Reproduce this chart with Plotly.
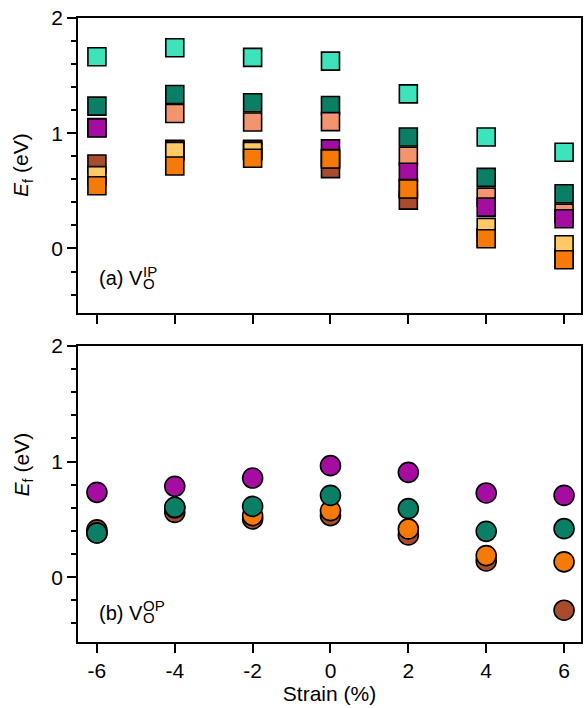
import plotly.graph_objects as go

strain = [-6, -4, -2, 0, 2, 4, 6]

# (a) V_O^IP  -- formation energies (eV)
ip_turquoise = [1.664, 1.742, 1.658, 1.626, 1.342, 0.968, 0.835]
ip_darkteal = [1.235, 1.336, 1.264, 1.241, 0.968, 0.617, 0.475]
ip_salmon = [1.05, 1.171, 1.098, 1.101, 0.80, 0.446, 0.307]
ip_brown = [0.733, 0.86, 0.86, 0.693, 0.42, 0.09, -0.09]
ip_magenta = [1.046, 0.855, 0.855, 0.864, 0.661, 0.359, 0.258]
ip_yellow = [0.632, 0.841, 0.841, 0.78, 0.52, 0.183, 0.032]
ip_orange = [0.545, 0.716, 0.783, 0.777, 0.516, 0.084, -0.098]

# (b) V_O^OP
op_brown = [0.41, 0.561, 0.504, 0.533, 0.366, 0.141, -0.285]
op_orange = [0.383, 0.60, 0.533, 0.576, 0.418, 0.187, 0.133]
op_darkteal = [0.383, 0.605, 0.613, 0.708, 0.593, 0.397, 0.42]
op_magenta = [0.734, 0.786, 0.858, 0.965, 0.907, 0.729, 0.708]

x_ticks = [-6, -4, -2, 0, 2, 4, 6]
x_ticktext = ["-6", "-4", "-2", "0", "2", "4", "6"]
y_ticks = [0, 1, 2]
y_ticktext = ["0", "1", "2"]

C_TURQ = "#3DE3BB"
C_DTEAL = "#0B7F66"
C_SALMON = "#F2956E"
C_BROWN = "#A84C2E"
C_MAGENTA = "#A50CA0"
C_YELLOW = "#FFC966"
C_ORANGE = "#F57A08"

FONT = "Liberation Sans, Arial, sans-serif"
FS = 21

fig = go.Figure()

top_series = [
    (ip_turquoise, C_TURQ),
    (ip_darkteal, C_DTEAL),
    (ip_salmon, C_SALMON),
    (ip_brown, C_BROWN),
    (ip_magenta, C_MAGENTA),
    (ip_yellow, C_YELLOW),
    (ip_orange, C_ORANGE),
]
for vals, col in top_series:
    fig.add_trace(go.Scatter(
        x=strain, y=vals, mode="markers", xaxis="x", yaxis="y",
        marker=dict(symbol="square", size=18, color=col,
                    line=dict(color="black", width=1.6)),
        showlegend=False, hoverinfo="skip"))

bot_series = [
    (op_brown, C_BROWN),
    (op_orange, C_ORANGE),
    (op_darkteal, C_DTEAL),
    (op_magenta, C_MAGENTA),
]
for vals, col in bot_series:
    fig.add_trace(go.Scatter(
        x=strain, y=vals, mode="markers", xaxis="x2", yaxis="y2",
        marker=dict(symbol="circle", size=20, color=col,
                    line=dict(color="black", width=1.6)),
        showlegend=False, hoverinfo="skip"))

xr = [-6.486, 6.435]
yr = [-0.56, 2.0]

common_x = dict(range=xr, tickmode="array", tickvals=x_ticks, ticktext=x_ticktext,
                ticks="outside", ticklen=9, tickwidth=1.5, tickcolor="black",
                showline=True, linecolor="black", linewidth=1.5, mirror=True,
                showgrid=False, zeroline=False,
                tickfont=dict(family=FONT, size=FS, color="black"))
common_y = dict(range=yr, tickmode="array", tickvals=y_ticks, ticktext=y_ticktext,
                ticks="outside", ticklen=9, tickwidth=1.5, tickcolor="black",
                minor=dict(tick0=0, dtick=0.2, ticks="outside", ticklen=5,
                           tickwidth=1.5, tickcolor="black", showgrid=False),
                showline=True, linecolor="black", linewidth=1.5, mirror=True,
                showgrid=False, zeroline=False,
                tickfont=dict(family=FONT, size=FS, color="black"))

fig.update_layout(
    width=587, height=708,
    margin=dict(l=78, r=4, t=18, b=66),
    paper_bgcolor="white", plot_bgcolor="white",
    font=dict(family=FONT, size=FS, color="black"),
    xaxis=dict(common_x, anchor="y", showticklabels=False),
    yaxis=dict(common_y, anchor="x", domain=[0.5272, 1.0]),
    xaxis2=dict(common_x, anchor="y2",
                title=dict(text="Strain (%)", font=dict(family=FONT, size=FS),
                           standoff=4)),
    yaxis2=dict(common_y, anchor="x2", domain=[0.0, 0.4744]),
    showlegend=False,
)

ann = []
ytitle = "<i>E</i><sub>f</sub> (eV)"
for yc in (0.764, 0.284):
    ann.append(dict(text=ytitle, xref="paper", yref="paper", x=-0.11, y=yc,
                    xanchor="center", yanchor="middle", textangle=-90,
                    showarrow=False, font=dict(family=FONT, size=FS)))

LS = 20   # panel label size
SS = 15   # sup/sub size
xs = -6.0 + 44.5 / 39.08  # start of the sup/sub after "(a) V"

# panel labels
ann.append(dict(text="(a) V", xref="x", yref="y", x=-6.0, y=-0.26,
                xanchor="left", yanchor="middle", showarrow=False,
                font=dict(family=FONT, size=LS)))
ann.append(dict(text="IP", xref="x", yref="y", x=xs, y=-0.20,
                xanchor="left", yanchor="middle", showarrow=False,
                font=dict(family=FONT, size=SS)))
ann.append(dict(text="O", xref="x", yref="y", x=xs, y=-0.30,
                xanchor="left", yanchor="middle", showarrow=False,
                font=dict(family=FONT, size=SS)))

ann.append(dict(text="(b) V", xref="x2", yref="y2", x=-6.0, y=-0.305,
                xanchor="left", yanchor="middle", showarrow=False,
                font=dict(family=FONT, size=LS)))
ann.append(dict(text="OP", xref="x2", yref="y2", x=xs, y=-0.245,
                xanchor="left", yanchor="middle", showarrow=False,
                font=dict(family=FONT, size=SS)))
ann.append(dict(text="O", xref="x2", yref="y2", x=xs, y=-0.345,
                xanchor="left", yanchor="middle", showarrow=False,
                font=dict(family=FONT, size=SS)))

fig.update_layout(annotations=ann)

fig.write_html("out.html")
